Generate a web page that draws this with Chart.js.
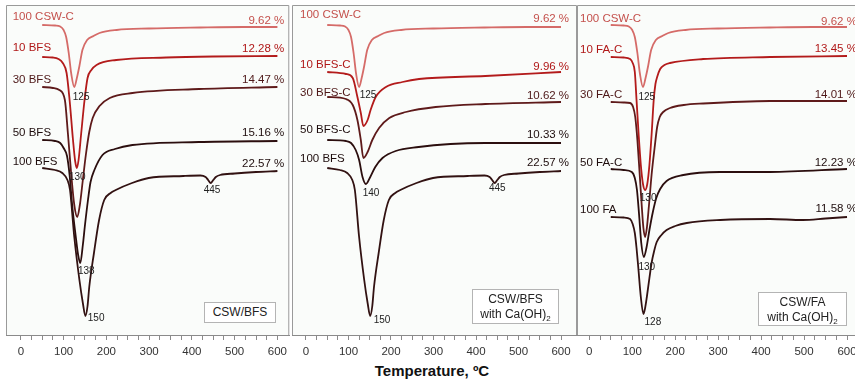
<!DOCTYPE html>
<html>
<head>
<meta charset="utf-8">
<script src="https://cdn.jsdelivr.net/npm/chart.js@4.4.1/dist/chart.umd.min.js"></script>
<style>
  body { margin: 0; background: #fff; font-family: "Liberation Sans", Arial, sans-serif; }
  #wrap { position: relative; width: 855px; height: 380px; overflow: hidden; }
  canvas { position: absolute; top: 0; }
  .box { position: absolute; background: #fff; border: 1px solid #b4b4b4; font-size: 12px; color: #222;
         text-align: center; line-height: 15px; box-sizing: border-box; }
  .box sub { font-size: 8px; line-height: 0; }
  #xtitle { position: absolute; left: 0; width: 864px; top: 362px; text-align: center;
            font-weight: bold; font-size: 15px; color: #111; }
</style>
</head>
<body>
<div id="wrap">
  <canvas id="p1" width="286" height="360" style="left:6px"></canvas>
  <canvas id="p2" width="285" height="360" style="left:292px"></canvas>
  <canvas id="p3" width="285" height="360" style="left:577px"></canvas>
  <div class="box" style="left:204px;top:302px;width:72px;height:21px;padding-top:2px">CSW/BFS</div>
  <div class="box" style="left:472px;top:289px;width:87px;height:35px;padding-top:2px">CSW/BFS<br>with Ca(OH)<sub>2</sub></div>
  <div class="box" style="left:758px;top:292px;width:89px;height:34px;padding-top:2px">CSW/FA<br>with Ca(OH)<sub>2</sub></div>
  <div id="xtitle">Temperature, ºC</div>
</div>
<script>
// DTG curves: temperature (°C) and signal (arbitrary units, offset per curve)
var tCSW = [50, 80, 92, 100, 106, 112, 118, 125, 131, 137, 144, 155, 170, 184, 224, 300, 420, 520, 600];
var dCSW = [25, 25.5, 26.5, 30, 37, 53, 74, 87, 78, 66, 50, 40, 36, 33, 30, 28.5, 27.5, 27, 27];

var tBFS10 = [50, 75, 88, 98, 107, 114, 122, 127, 131, 135, 141, 149, 156, 165, 177, 223, 340, 450, 600];
var dBFS10 = [57, 57.5, 59, 63, 73, 100, 140, 161, 168, 160, 134, 100, 78, 70, 65, 60, 57.5, 56.5, 56];

var tBFS30 = [50, 75, 90, 103, 110, 118, 125, 132, 138, 145, 152, 160, 168, 184, 208, 261, 417, 600];
var dBFS30 = [87, 88, 90, 100, 133, 175, 205, 217, 205, 180, 155, 132, 118, 106, 98, 93, 89, 87];

var tBFS50 = [50, 80, 92, 100, 108, 114, 120, 128, 134, 139, 145, 150, 157, 163, 172, 191, 220, 261, 416, 600];
var dBFS50 = [140, 141, 143, 148, 156, 175, 205, 235, 255, 263, 245, 225, 200, 182, 170, 155, 149, 145, 142, 141];

var tBFS100 = [50, 80, 97, 109, 115, 125, 137, 145, 151, 156, 160, 171, 183, 195, 210, 222, 260, 299, 380, 420, 432, 438, 444, 450, 456, 466, 500, 550, 600];
var dBFS100 = [168, 170, 173, 180, 190, 237, 280, 303, 316, 306, 287, 253, 220, 200, 193, 190, 183, 178, 176, 175.5, 177, 180, 183, 180, 177, 175, 173.5, 172, 171];

var tBFSC10 = [50, 94, 110, 121, 129, 135, 145, 152, 164, 188, 227, 266, 422, 600];
var dBFSC10 = [72, 74, 78, 97, 113, 126, 120, 110, 97, 87, 82, 79, 76, 72];

var tBFSC30 = [50, 94, 110, 121, 129, 135, 145, 156, 172, 196, 235, 305, 422, 600];
var dBFSC30 = [97, 99, 105, 120, 140, 158, 152, 140, 128, 118, 112, 107, 104, 102];

var tBFSC50 = [50, 94, 106, 117, 125, 133, 141, 150, 163, 180, 211, 265, 340, 422, 600];
var dBFSC50 = [140, 141, 143, 150, 160, 177, 184, 178, 167, 158, 151, 147, 144, 143, 143];

var tFAC10 = [50, 80, 95, 101, 106, 110, 115, 120, 125, 130, 135, 140, 145, 150, 154, 158, 165, 175, 188, 265, 421, 600];
var dFAC10 = [57, 57.5, 59, 63, 72, 100, 135, 165, 184, 190, 184, 165, 135, 100, 84, 77, 69, 65, 63, 59, 57, 56];

var tFAC30 = [50, 80, 95, 102, 107, 112, 117, 122, 126, 130, 134, 139, 145, 152, 158, 164, 172, 188, 220, 265, 421, 600];
var dFAC30 = [102, 102.5, 103, 107, 117, 140, 172, 205, 228, 237, 228, 205, 175, 148, 127, 117, 112, 108, 105, 103.5, 101, 101];

var tFAC50 = [50, 80, 99, 106, 111, 116, 121, 127, 133, 140, 148, 156, 165, 180, 219, 304, 421, 600];
var dFAC50 = [169, 170, 172, 178, 190, 215, 243, 257, 248, 230, 212, 198, 189, 181, 175, 172, 172, 169];

var tFA100 = [50, 80, 95, 101, 106, 110, 114, 120, 126, 130, 134, 140, 145, 151, 157, 168, 180, 200, 227, 305, 421, 497, 550, 600];
var dFA100 = [217, 217.5, 219, 224, 233, 248, 267, 297, 314, 308, 297, 278, 263, 251, 242, 235, 230, 226, 223, 220, 219, 220, 218.5, 217];

// labels
var names1 = ["100 CSW-C", "10 BFS", "30 BFS", "50 BFS", "100 BFS"];
var loss1 = ["9.62 %", "12.28 %", "14.47 %", "15.16 %", "22.57 %"];
var peaks1 = ["125", "130", "138", "150", "445"];

var names2 = ["100 CSW-C", "10 BFS-C", "30 BFS-C", "50 BFS-C", "100 BFS"];
var loss2 = ["9.62 %", "9.96 %", "10.62 %", "10.33 %", "22.57 %"];
var peaks2 = ["125", "140", "150", "445"];

var names3 = ["100 CSW-C", "10 FA-C", "30 FA-C", "50 FA-C", "100 FA"];
var loss3 = ["9.62 %", "13.45 %", "14.01 %", "12.23 %", "11.58 %"];
var peaks3 = ["125", "130", "130", "128"];

var xTicks = [0, 100, 200, 300, 400, 500, 600];

var lineColors = ["#d56b68", "#b31b1b", "#5e1a1a", "#2b0e0e", "#321212"];
var textColors = ["#c4504c", "#b01818", "#4e1818", "#1e0d0d", "#1e0d0d"];

function pts(t, d) {
  return t.map(function (v, i) { return { x: v, y: d[i] }; });
}

var panels = [
  {
    id: "p1", xmin: -34.7, xmax: 627.8,
    series: [[tCSW, dCSW], [tBFS10, dBFS10], [tBFS30, dBFS30], [tBFS50, dBFS50], [tBFS100, dBFS100]],
    names: names1, loss: loss1, nameX: -19, nameY: [17, 48, 80, 133, 162],
    lossX: 616, lossY: [21, 49, 80, 133, 164],
    peaks: peaks1, peakX: [141, 132, 153, 176, 447], peakY: [97, 177, 271, 318, 190]
  },
  {
    id: "p2", xmin: -32.9, xmax: 637.6,
    series: [[tCSW, dCSW], [tBFSC10, dBFSC10], [tBFSC30, dBFSC30], [tBFSC50, dBFSC50], [tBFS100, dBFS100]],
    names: names2, loss: loss2, nameX: -14, nameY: [15, 65, 93, 130, 159],
    lossX: 619, lossY: [19, 67, 96, 135, 163],
    peaks: peaks2, peakX: [146, 153, 179, 450], peakY: [95, 193, 320, 188]
  },
  {
    id: "p3", xmin: -28.6, xmax: 634.9,
    series: [[tCSW, dCSW], [tFAC10, dFAC10], [tFAC30, dFAC30], [tFAC50, dFAC50], [tFA100, dFA100]],
    names: names3, loss: loss3, nameX: -21.6, nameY: [19, 50, 95, 163, 210],
    lossX: 623, lossY: [22, 49, 95, 163, 209],
    peaks: peaks3, peakX: [134, 137, 134, 148], peakY: [97, 198, 267, 322]
  }
];

Chart.defaults.font.family = "'Liberation Sans', Arial, sans-serif";

var frame = {
  id: "frame",
  beforeDraw: function (chart) {
    var a = chart.chartArea, ctx = chart.ctx;
    ctx.save();
    ctx.fillStyle = "#fafcfa";
    ctx.fillRect(a.left, a.top, a.right - a.left, a.bottom - a.top);
    ctx.strokeStyle = "#9a9a9a";
    ctx.lineWidth = 1;
    ctx.beginPath();
    ctx.moveTo(a.left + 0.5, a.bottom);
    ctx.lineTo(a.left + 0.5, a.top + 0.5);
    ctx.lineTo(a.right - 0.5, a.top + 0.5);
    ctx.lineTo(a.right - 0.5, a.bottom);
    ctx.stroke();
    ctx.restore();
  },
  afterDatasetsDraw: function (chart) {
    var p = chart.options.plugins.frame.panel;
    var x = chart.scales.x, y = chart.scales.y, ctx = chart.ctx;
    ctx.save();
    ctx.textBaseline = "middle";
    ctx.font = "11.5px 'Liberation Sans', Arial, sans-serif";
    p.names.forEach(function (n, i) {
      ctx.fillStyle = textColors[i];
      ctx.textAlign = "left";
      ctx.fillText(n, x.getPixelForValue(p.nameX), y.getPixelForValue(p.nameY[i]));
      ctx.textAlign = "right";
      ctx.fillText(p.loss[i], x.getPixelForValue(p.lossX), y.getPixelForValue(p.lossY[i]));
    });
    ctx.font = "10px 'Liberation Sans', Arial, sans-serif";
    ctx.fillStyle = "#222";
    ctx.textAlign = "center";
    p.peaks.forEach(function (t, i) {
      ctx.fillText(t, x.getPixelForValue(p.peakX[i]), y.getPixelForValue(p.peakY[i]));
    });
    ctx.restore();
  }
};

panels.forEach(function (p) {
  new Chart(document.getElementById(p.id), {
    type: "line",
    data: {
      datasets: p.series.map(function (s, i) {
        return {
          data: pts(s[0], s[1]),
          borderColor: lineColors[i],
          borderWidth: 1.8,
          pointRadius: 0,
          fill: false,
          cubicInterpolationMode: "monotone"
        };
      }).reverse()
    },
    options: {
      responsive: false,
      animation: false,
      devicePixelRatio: 1,
      layout: { padding: { top: 5, left: 0, right: 0, bottom: 0 } },
      plugins: { legend: { display: false }, tooltip: { enabled: false }, frame: { panel: p } },
      scales: {
        x: {
          type: "linear",
          min: p.xmin,
          max: p.xmax,
          afterBuildTicks: function (axis) {
            axis.ticks = axis.ticks.filter(function (t) { return t.value >= 0 && t.value <= 600; });
          },
          afterFit: function (axis) { axis.height = 25; },
          ticks: {
            stepSize: 25,
            includeBounds: false,
            maxRotation: 0,
            autoSkip: false,
            padding: 5,
            color: "#333",
            font: { size: 11.5 },
            callback: function (v) { return xTicks.indexOf(v) >= 0 ? String(v) : ""; }
          },
          grid: { drawOnChartArea: false, drawTicks: true, tickLength: 5, color: "#8a8a8a" },
          border: { color: "#8a8a8a" }
        },
        y: { display: false, min: 5, max: 335, reverse: true }
      }
    },
    plugins: [frame]
  });
});
</script>
</body>
</html>
